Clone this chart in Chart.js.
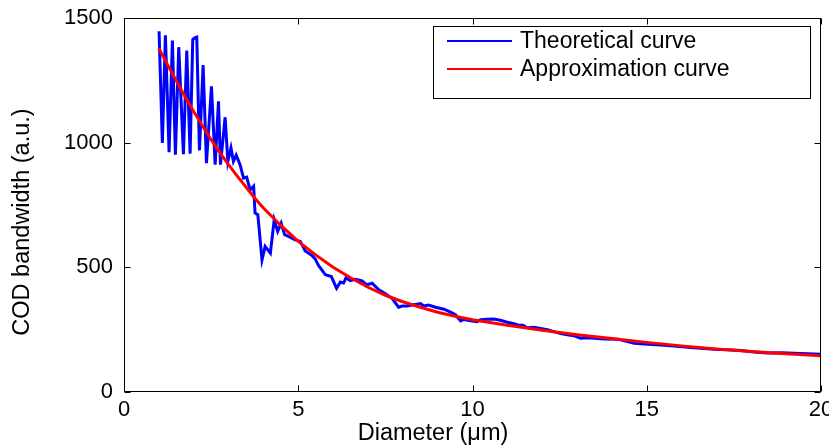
<!DOCTYPE html>
<html>
<head>
<meta charset="utf-8">
<script src="https://cdn.jsdelivr.net/npm/chart.js@4.4.1/dist/chart.umd.min.js"></script>
<style>
html,body{margin:0;padding:0;background:#fff;}
canvas{display:block;}
</style>
</head>
<body>
<canvas id="c" width="829" height="448"></canvas>
<script>
// ---- data ----
const theoreticalX = [1.006,1.101,1.188,1.293,1.389,1.475,1.571,1.705,1.801,1.897,1.973,2.03,2.088,2.165,2.27,2.366,2.51,2.615,2.711,2.768,2.902,2.98,3.07,3.14,3.22,3.33,3.43,3.52,3.62,3.72,3.76,3.84,3.96,4.05,4.2,4.31,4.41,4.51,4.61,4.72,4.91,5.06,5.2,5.39,5.49,5.58,5.78,5.95,6.1,6.21,6.3,6.37,6.49,6.64,6.83,6.97,7.12,7.31,7.5,7.69,7.88,7.98,8.12,8.27,8.51,8.6,8.74,8.94,9.18,9.37,9.51,9.66,9.75,9.94,10.13,10.23,10.42,10.61,10.8,11.0,11.19,11.33,11.45,11.57,11.76,11.95,12.15,12.34,12.53,12.72,12.91,13.1,13.3,13.49,13.77,14.16,14.64,15.02,15.4,15.78,16.17,16.55,16.93,17.32,17.7,18.08,18.47,18.85,19.23,19.62,20];
const theoreticalY = [1447,999,1431,962,1410,952,1383,954,1369,956,1414,1420,1423,969,1311,918,1226,912,1166,912,1102,925,979,925,950,912,858,862,811,825,718,711,530,584,557,691,644,677,631,624,610,604,566,548,533,508,470,463,416,441,437,458,447,452,446,430,436,410,394,376,340,345,345,349,355,345,349,340,332,320,310,285,291,286,282,290,292,293,288,280,274,268,268,258,260,255,250,242,234,230,226,216,218,216,213,212,195,192,188,184,179,175,171,169,166,160,156,157,155,153,151];

const approxX = [1,1.25,1.5,1.75,2,2.25,2.5,2.75,3,3.25,3.5,3.75,4,4.5,5,5.5,6,6.5,7,7.5,8,8.5,9,9.5,10,11,12,13,14,15,16,17,18,19,20];
const approxY = [1378,1312,1248,1185,1125,1068,1012,960,912,866,822,778,738,668,604,550,500,458,420,388,362,340,320,304,290,268,248,230,215,199,185,172,162,153,145];

const xTicks = [0,5,10,15,20];
const yTicks = [0,500,1000,1500];
const seriesLabels = ['Theoretical curve','Approximation curve'];
const xTitle = 'Diameter (μm)';
const yTitle = 'COD bandwidth (a.u.)';

const FONT = '"Liberation Sans", Arial, Helvetica, sans-serif';
const FS = 22;
const FS_TITLE = 23.5;
const FS_LEG = 23;

const toPts = (xs, ys) => xs.map((x, i) => ({x: x, y: ys[i]}));

const framePlugin = {
  id: 'matlabFrame',
  afterDraw(chart) {
    const ctx = chart.ctx;
    const a = chart.chartArea;
    const xs = chart.scales.x, ys = chart.scales.y;
    ctx.save();
    ctx.strokeStyle = '#000';
    ctx.lineWidth = 1;
    const L = Math.round(a.left) + 0.5, R = Math.round(a.right) - 0.5;
    const T = Math.round(a.top) + 0.5, B = Math.round(a.bottom) - 0.5;
    ctx.strokeRect(L, T, R - L, B - T);
    const tl = 6;
    ctx.beginPath();
    xTicks.forEach(v => {
      const px = Math.round(xs.getPixelForValue(v)) + 0.5;
      ctx.moveTo(px, B); ctx.lineTo(px, B - tl);
      ctx.moveTo(px, T); ctx.lineTo(px, T + tl);
    });
    yTicks.forEach(v => {
      const py = Math.round(ys.getPixelForValue(v)) + 0.5;
      ctx.moveTo(L, py); ctx.lineTo(L + tl, py);
      ctx.moveTo(R, py); ctx.lineTo(R - tl, py);
    });
    ctx.stroke();

    // axis titles
    ctx.fillStyle = '#000';
    ctx.font = FS_TITLE + 'px ' + FONT;
    ctx.textAlign = 'center';
    ctx.textBaseline = 'middle';
    ctx.fillText(xTitle, 433, 434);
    ctx.save();
    ctx.translate(23, 222);
    ctx.rotate(-Math.PI / 2);
    ctx.fillText(yTitle, 0, 0);
    ctx.restore();

    // legend
    const bx = 433.5, by = 26.5, bw = 377, bh = 72;
    ctx.fillStyle = '#fff';
    ctx.fillRect(bx, by, bw, bh);
    ctx.strokeRect(bx, by, bw, bh);
    const rows = [41, 69];
    const order = [1, 0]; // dataset indices: theoretical, approximation
    ctx.font = FS_LEG + 'px ' + FONT;
    order.forEach((di, r) => {
      const ds = chart.data.datasets[di];
      ctx.strokeStyle = ds.borderColor;
      ctx.lineWidth = 2;
      ctx.beginPath();
      ctx.moveTo(447, rows[r]); ctx.lineTo(512, rows[r]);
      ctx.stroke();
      ctx.fillStyle = '#000';
      ctx.textAlign = 'left';
      ctx.textBaseline = 'middle';
      ctx.fillText(ds.label, 520, rows[r] + 1);
    });
    ctx.restore();
  }
};

new Chart(document.getElementById('c'), {
  type: 'scatter',
  data: {
    datasets: [
      {
        label: seriesLabels[1],
        data: toPts(approxX, approxY),
        showLine: true,
        borderColor: '#ff0000',
        backgroundColor: '#ff0000',
        borderWidth: 3,
        pointRadius: 0,
        tension: 0,
        order: 0
      },
      {
        label: seriesLabels[0],
        data: toPts(theoreticalX, theoreticalY),
        showLine: true,
        borderColor: '#0000ff',
        backgroundColor: '#0000ff',
        borderWidth: 3,
        pointRadius: 0,
        tension: 0,
        order: 1
      }
    ]
  },
  options: {
    responsive: false,
    animation: false,
    devicePixelRatio: 1,
    layout: { padding: { left: 0, right: 8, top: 18, bottom: 0 } },
    plugins: { legend: { display: false }, tooltip: { enabled: false } },
    scales: {
      x: {
        type: 'linear', min: 0, max: 20,
        afterBuildTicks: s => { s.ticks = xTicks.map(v => ({value: v})); },
        ticks: { autoSkip: false, maxRotation: 0, padding: 5, color: '#000',
                 font: { family: FONT, size: FS },
                 callback: v => String(v) },
        grid: { display: false, drawTicks: false },
        border: { display: false },
        afterFit: s => { s.height = 56; s.paddingLeft = 0; s.paddingRight = 0; }
      },
      y: {
        type: 'linear', min: 0, max: 1500,
        afterBuildTicks: s => { s.ticks = yTicks.map(v => ({value: v})); },
        ticks: { autoSkip: false, padding: 11, color: '#000',
                 font: { family: FONT, size: FS },
                 callback: v => String(v) },
        grid: { display: false, drawTicks: false },
        border: { display: false },
        afterFit: s => { s.width = 124; s.paddingTop = 0; s.paddingBottom = 0; }
      }
    }
  },
  plugins: [framePlugin]
});
</script>
</body>
</html>
